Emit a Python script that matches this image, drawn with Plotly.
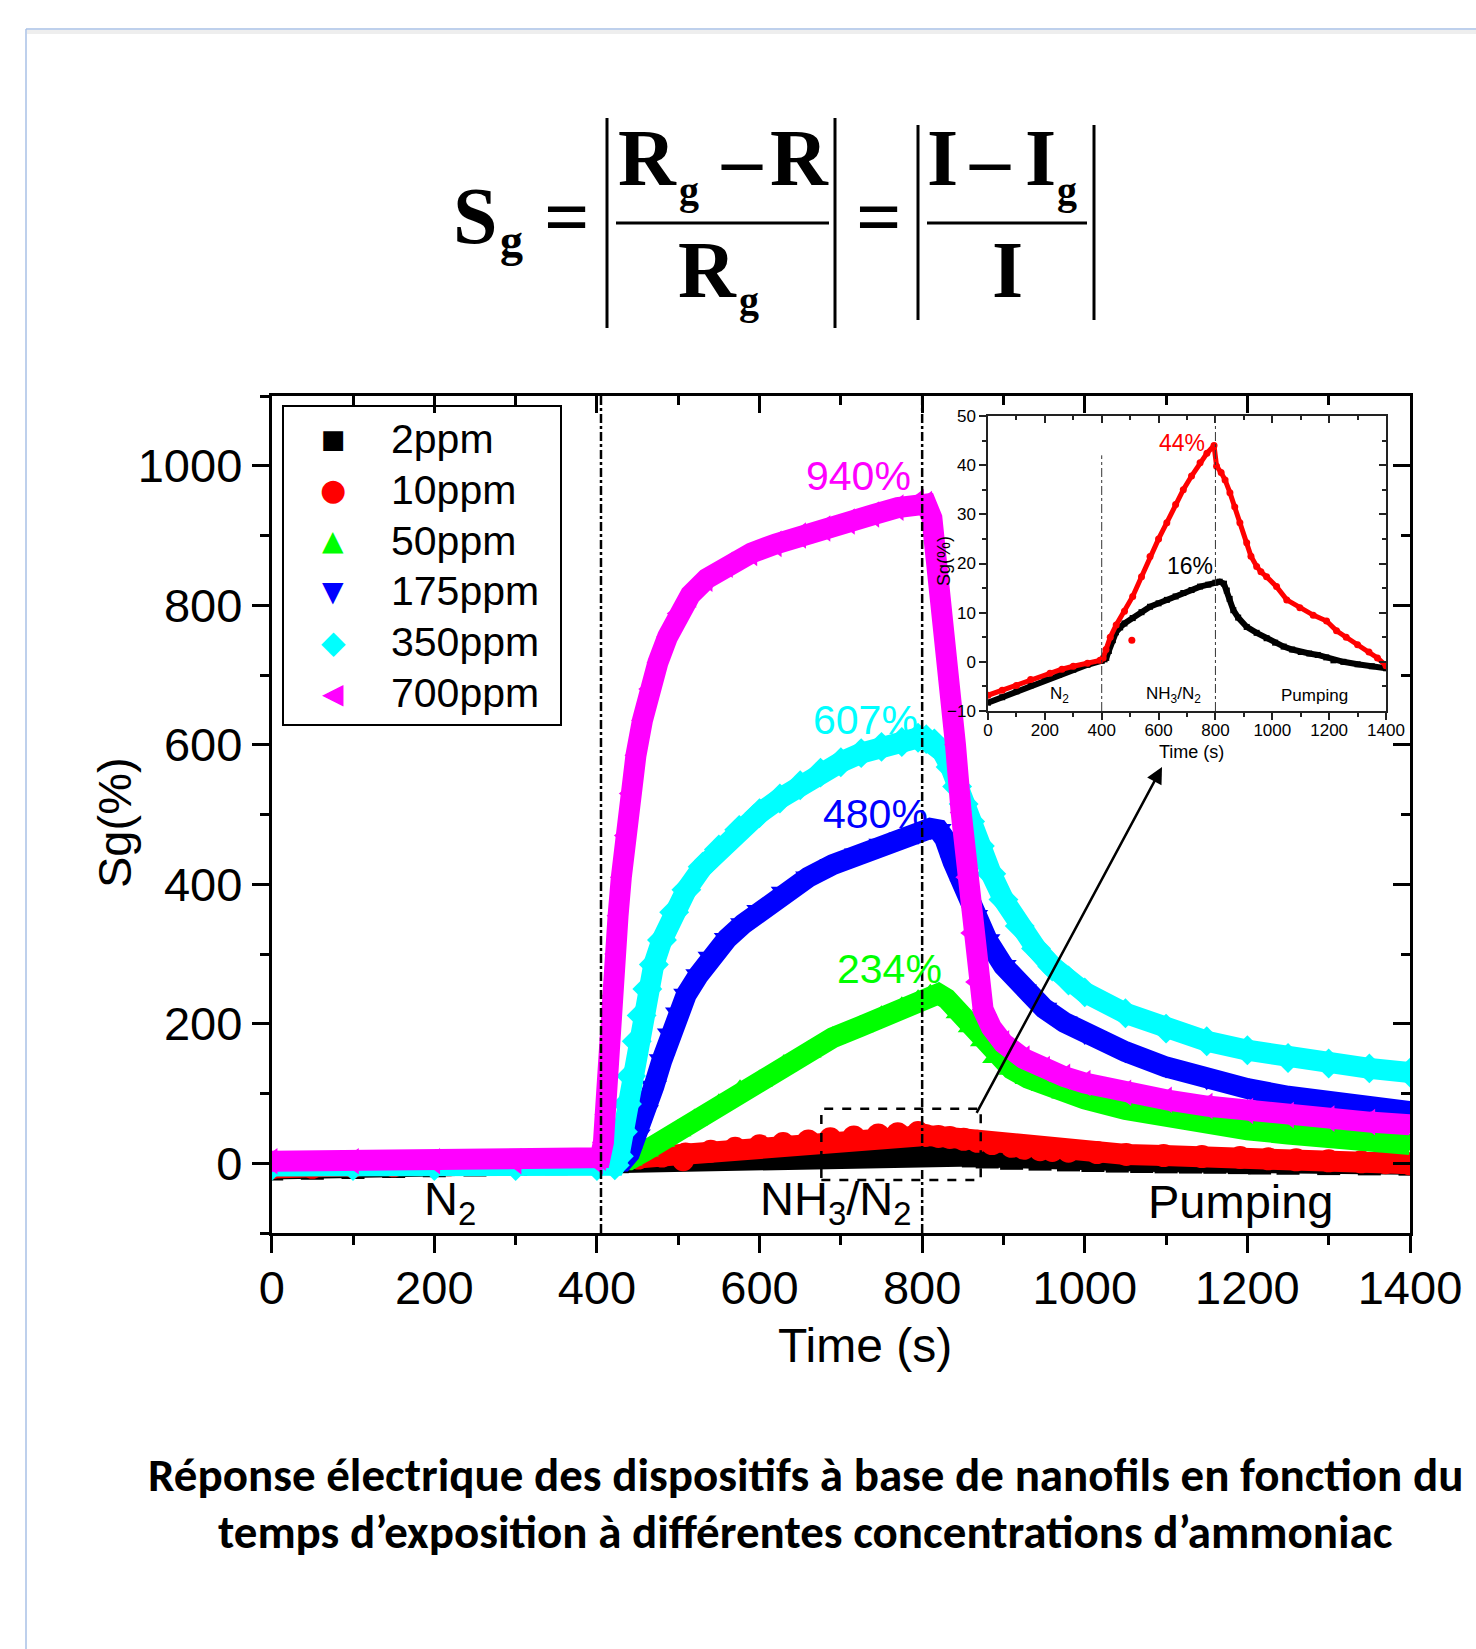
import plotly.graph_objects as go

W, H = 1476, 1649

# ---------------- data ----------------
t_2ppm = [0, 50, 100, 150, 200, 250, 300, 350, 400, 410, 416, 425, 439, 450, 465, 480, 509, 540, 570,
          600, 629, 660, 687, 716, 746, 775, 800, 815, 830, 840, 850, 863, 880, 910, 945, 980, 1010,
          1040, 1070, 1100, 1130, 1160, 1190, 1215, 1250, 1300, 1350, 1400]
v_2ppm = [-8.3, -7.2, -6.0, -4.8, -3.6, -2.6, -1.6, -0.6, 0.2, 0.5, 0.8, 2.2, 4.4, 6.0, 7.0, 7.8, 8.9,
          10.1, 11.2, 11.9, 12.6, 13.3, 14.0, 14.6, 15.3, 15.7, 16.1, 16.3, 15.9, 14.5, 12.8, 10.5, 9.0,
          7.1, 5.9, 4.8, 3.9, 3.1, 2.5, 2.0, 1.7, 1.4, 0.9, 0.3, 0.0, -0.5, -0.9, -1.3]

t_10ppm = [0, 50, 100, 150, 218, 260, 300, 350, 394, 405, 415, 430, 451, 480, 509, 540, 570, 600, 629,
           660, 687, 716, 746, 770, 795, 804, 820, 834, 851, 868, 886, 910, 925, 945, 960, 980, 1015,
           1051, 1097, 1144, 1191, 1226, 1260, 1300, 1340, 1370, 1400]
v_10ppm = [-6.8, -5.8, -4.8, -3.6, -2.3, -1.5, -0.9, -0.3, 0.3, 0.8, 2.5, 5.0, 7.5, 10.3, 13.3, 17.3,
           21.4, 25.0, 28.3, 32.0, 35.0, 37.8, 40.5, 42.4, 44.0, 39.8, 38.5, 37.0, 34.4, 31.5, 28.3,
           24.2, 21.5, 19.4, 18.3, 17.3, 15.3, 12.6, 11.0, 9.5, 8.3, 6.3, 5.0, 3.5, 2.0, 0.8, -0.8]
t_10ppm_outlier = [506]
v_10ppm_outlier = [4.4]

t_50ppm = [0, 100, 200, 300, 400, 430, 440, 460, 480, 500, 520, 550, 576, 600, 630, 660, 690, 724, 750,
           775, 795, 810, 820, 830, 845, 860, 875, 890, 910, 930, 950, 975, 1000, 1050, 1100, 1150,
           1200, 1250, 1300, 1350, 1400]
v_50ppm = [0, 0, 0, 0, 0, 0, 5, 18, 32, 47, 62, 84, 104, 118, 140, 160, 180, 196, 210, 223, 233, 241,
           243, 236, 216, 196, 176, 152, 135, 122, 112, 101, 92, 77, 66, 56, 48, 42, 36, 31, 27]

t_175ppm = [0, 100, 200, 300, 400, 425, 432, 440, 450, 460, 470, 480, 490, 500, 510, 525, 540, 560, 580,
            600, 630, 660, 690, 720, 750, 775, 795, 810, 820, 828, 838, 850, 865, 880, 900, 925, 950,
            975, 1000, 1050, 1100, 1150, 1200, 1250, 1300, 1350, 1400]
v_175ppm = [-2, -2, -2, -2, -2, -2, 3, 14, 40, 75, 110, 148, 185, 215, 242, 270, 295, 322, 343, 362,
            388, 410, 428, 443, 457, 466, 473, 480, 478, 465, 432, 398, 355, 320, 283, 248, 222, 202,
            186, 160, 138, 121, 107, 96, 87, 80, 74]

t_350ppm = [0, 100, 200, 300, 400, 422, 427, 432, 437, 442, 449, 455, 462, 470, 480, 495, 510, 530, 550,
            575, 600, 625, 650, 675, 700, 725, 750, 775, 795, 805, 815, 825, 835, 843, 851, 859, 871,
            885, 900, 920, 940, 960, 980, 1000, 1050, 1100, 1150, 1200, 1250, 1300, 1350, 1400]
v_350ppm = [-4, -4, -4, -4, -4, -3, 10, 45, 85, 125, 175, 212, 250, 285, 320, 360, 392, 425, 450, 478,
            502, 523, 542, 560, 575, 588, 597, 604, 610, 608, 602, 590, 568, 540, 515, 490, 455, 415,
            378, 340, 308, 282, 262, 245, 215, 193, 175, 162, 151, 143, 136, 130]

t_700ppm = [0, 100, 200, 300, 400, 404, 408, 411, 414, 417, 420, 423, 426, 430, 435, 441, 448, 456, 465,
            475, 487, 500, 515, 535, 560, 590, 620, 650, 680, 710, 740, 770, 795, 805, 812, 820, 827,
            834, 841, 848, 855, 861, 867, 875, 885, 900, 925, 950, 975, 1000, 1050, 1100, 1150, 1200,
            1250, 1300, 1350, 1400]
v_700ppm = [3, 3, 3, 3, 3, 8, 30, 70, 120, 180, 240, 300, 355, 410, 470, 530, 585, 635, 680, 718, 755,
            788, 815, 838, 858, 875, 888, 900, 910, 920, 930, 940, 948, 945, 925, 850, 780, 694, 600,
            503, 410, 330, 260, 220, 195, 172, 150, 135, 124, 115, 101, 91, 82, 75, 69, 64, 59, 55]

series_names = ["2ppm", "10ppm", "50ppm", "175ppm", "350ppm", "700ppm"]
series_t = [t_2ppm, t_10ppm, t_50ppm, t_175ppm, t_350ppm, t_700ppm]
series_v = [v_2ppm, v_10ppm, v_50ppm, v_175ppm, v_350ppm, v_700ppm]
series_colors = ["#000000", "#ff0000", "#00ff00", "#0000ff", "#00ffff", "#ff00ff"]
series_symbols = ["square", "circle", "triangle-up", "triangle-down", "diamond", "triangle-left"]
legend_glyphs = ["\u25A0", "\u25CF", "\u25B2", "\u25BC", "\u25C6", "\u25C0"]
legend_glyph_sizes = [26, 30, 28, 28, 32, 28]

peak_labels = ["940%", "607%", "480%", "234%"]
peak_label_t = [722, 730, 742, 760]
peak_label_v = [986, 635, 501, 278]
peak_label_colors = ["#ff00ff", "#00ffff", "#0000ff", "#00ff00"]

inset_labels = ["44%", "16%"]
inset_label_t = [681, 710]
inset_label_v = [44.6, 19.4]
inset_label_colors = ["#ff0000", "#000000"]

phase_bounds_main = [405, 800]
phase_bounds_inset = [400, 800]
phase_names = ["N<sub>2</sub>", "NH<sub>3</sub>/N<sub>2</sub>", "Pumping"]
phase_name_t = [219, 694, 1192]
phase_name_v = -55
inset_phase_name_t = [253, 652, 1150]
inset_phase_name_v = -6.8
inset_phase_tops = [42, 50]

zoom_box_t = [676, 872]
zoom_box_v = [-24, 78]
arrow_tail = (866, 70)
arrow_head = (1095, 568)

x_ticks = list(range(0, 1401, 200))
y_ticks = list(range(0, 1001, 200))
inset_y_ticks = list(range(-10, 51, 10))

SANS = "Arial, Liberation Sans, sans-serif"
SYM = "DejaVu Sans, sans-serif"
SERIF = "Times New Roman, Liberation Serif, serif"
CAPF = "Carlito, Calibri, Lato, sans-serif"


def px(x, y):
    return x / W, 1 - y / H


# layout boxes in pixels
MAIN_L, MAIN_R, MAIN_T, MAIN_B = 271.7, 1410, 396, 1233
INS_L, INS_R, INS_T, INS_B = 988, 1386, 416, 711
LEG_L, LEG_T, LEG_R, LEG_B = 283, 406, 561, 725
LEG_ROW0, LEG_STEP, LEG_SYM_X, LEG_TXT_X = 439, 50.8, 333, 389

fig = go.Figure()

# main series: band (thick line) + markers
for name, t, v, c, s in zip(series_names, series_t, series_v, series_colors, series_symbols):
    fig.add_trace(go.Scatter(x=t, y=v, mode="lines", line=dict(color=c, width=21),
                             showlegend=False, hoverinfo="skip", xaxis="x", yaxis="y"))
    fig.add_trace(go.Scatter(x=t, y=v, mode="markers", name=name,
                             marker=dict(color=c, symbol=s, size=23, line=dict(width=0)),
                             showlegend=False, xaxis="x", yaxis="y"))
    if name == "10ppm":
        fig.add_trace(go.Scatter(x=t_10ppm_outlier, y=v_10ppm_outlier, mode="markers",
                                 marker=dict(color=c, symbol="circle", size=22),
                                 showlegend=False, xaxis="x", yaxis="y"))

# inset series
fig.add_trace(go.Scatter(x=t_2ppm, y=v_2ppm, mode="lines+markers",
                         line=dict(color="#000000", width=6),
                         marker=dict(color="#000000", symbol="square", size=6),
                         showlegend=False, xaxis="x2", yaxis="y2"))
fig.add_trace(go.Scatter(x=t_10ppm, y=v_10ppm, mode="lines+markers",
                         line=dict(color="#ff0000", width=5),
                         marker=dict(color="#ff0000", symbol="circle", size=7),
                         showlegend=False, xaxis="x2", yaxis="y2"))
fig.add_trace(go.Scatter(x=t_10ppm_outlier, y=v_10ppm_outlier, mode="markers",
                         marker=dict(color="#ff0000", symbol="circle", size=7),
                         showlegend=False, xaxis="x2", yaxis="y2"))

# empty traces so the mirrored (inside-tick) frame axes are drawn
fig.add_trace(go.Scatter(x=[], y=[], xaxis="x3", yaxis="y3", showlegend=False, hoverinfo="skip"))
fig.add_trace(go.Scatter(x=[], y=[], xaxis="x4", yaxis="y4", showlegend=False, hoverinfo="skip"))

main_dom_x = [MAIN_L / W, MAIN_R / W]
main_dom_y = [1 - MAIN_B / H, 1 - MAIN_T / H]
ins_dom_x = [INS_L / W, INS_R / W]
ins_dom_y = [1 - INS_B / H, 1 - INS_T / H]

tickfont_main = dict(family=SANS, size=47, color="black")
tickfont_ins = dict(family=SANS, size=17, color="black")

common_main = dict(showline=True, linecolor="black", linewidth=3, showgrid=False, zeroline=False,
                   tickcolor="black", tickwidth=3, automargin=False)
common_ins = dict(showline=True, linecolor="#222", linewidth=1.5, showgrid=False, zeroline=False,
                  tickcolor="#222", tickwidth=1.5, automargin=False)

fig.update_layout(
    width=W, height=H, autosize=False,
    margin=dict(l=0, r=0, t=0, b=0, pad=0, autoexpand=False),
    paper_bgcolor="white", plot_bgcolor="rgba(0,0,0,0)",
    showlegend=False,
    xaxis=dict(domain=main_dom_x, range=[0, 1400], tickvals=x_ticks, ticks="outside", ticklen=17,
               tickfont=tickfont_main, anchor="y", ticklabelstandoff=-5,
               minor=dict(ticks="outside", ticklen=9, dtick=100, tickwidth=3, tickcolor="black"),
               **common_main),
    yaxis=dict(domain=main_dom_y, range=[-100, 1100], tickvals=y_ticks, ticks="outside", ticklen=17,
               tickfont=tickfont_main, anchor="x",
               minor=dict(ticks="outside", ticklen=9, tick0=0, dtick=100, tickwidth=3, tickcolor="black"),
               **common_main),
    xaxis3=dict(overlaying="x", side="top", anchor="y", range=[0, 1400], tickvals=x_ticks,
                ticks="inside", ticklen=17, showticklabels=False,
                minor=dict(ticks="inside", ticklen=9, dtick=100, tickwidth=3, tickcolor="black"),
                **common_main),
    yaxis3=dict(overlaying="y", side="right", anchor="x", range=[-100, 1100], tickvals=y_ticks,
                ticks="inside", ticklen=17, showticklabels=False,
                minor=dict(ticks="inside", ticklen=9, tick0=0, dtick=100, tickwidth=3, tickcolor="black"),
                **common_main),
    xaxis2=dict(domain=ins_dom_x, range=[0, 1400], tickvals=x_ticks, ticks="outside", ticklen=7,
                tickfont=tickfont_ins, anchor="y2", ticklabelstandoff=-4,
                minor=dict(ticks="outside", ticklen=4, dtick=100, tickwidth=1.5, tickcolor="#222"),
                **common_ins),
    yaxis2=dict(domain=ins_dom_y, range=[-10, 50], tickvals=inset_y_ticks, ticks="outside", ticklen=7,
                tickfont=tickfont_ins, anchor="x2",
                minor=dict(ticks="outside", ticklen=4, tick0=0, dtick=5, tickwidth=1.5, tickcolor="#222"),
                **common_ins),
    xaxis4=dict(overlaying="x2", side="top", anchor="y2", range=[0, 1400], tickvals=x_ticks,
                ticks="inside", ticklen=7, showticklabels=False,
                minor=dict(ticks="inside", ticklen=4, dtick=100, tickwidth=1.5, tickcolor="#222"),
                **common_ins),
    yaxis4=dict(overlaying="y2", side="right", anchor="x2", range=[-10, 50], tickvals=inset_y_ticks,
                ticks="inside", ticklen=7, showticklabels=False,
                minor=dict(ticks="inside", ticklen=4, tick0=0, dtick=5, tickwidth=1.5, tickcolor="#222"),
                **common_ins),
)

shapes = []
annotations = []

# page frame (top and left edges)
shapes.append(dict(type="line", xref="paper", yref="paper", x0=27 / W, x1=1, y0=1 - 32 / H, y1=1 - 32 / H,
                   line=dict(color="#eeeeee", width=4), layer="below"))
shapes.append(dict(type="line", xref="paper", yref="paper", x0=26 / W, x1=1, y0=1 - 29 / H, y1=1 - 29 / H,
                   line=dict(color="#a9c1e6", width=1.5), layer="below"))
shapes.append(dict(type="line", xref="paper", yref="paper", x0=26 / W, x1=26 / W, y0=0, y1=1 - 29 / H,
                   line=dict(color="#a9c1e6", width=1.5), layer="below"))

# legend frame + entries
lx0, ly0 = px(LEG_L, LEG_B)
lx1, ly1 = px(LEG_R, LEG_T)
shapes.append(dict(type="rect", xref="paper", yref="paper", x0=lx0, x1=lx1, y0=ly0, y1=ly1,
                   line=dict(color="black", width=2), fillcolor="white", layer="below"))
for i, (name, c, g, gs) in enumerate(zip(series_names, series_colors, legend_glyphs, legend_glyph_sizes)):
    yrow = LEG_ROW0 + i * LEG_STEP
    xs, ys = px(LEG_SYM_X, yrow)
    annotations.append(dict(x=xs, y=ys, xref="paper", yref="paper", text=g, showarrow=False,
                            xanchor="center", yanchor="middle", font=dict(family=SYM, size=gs, color=c)))
    xt, yt = px(LEG_TXT_X, yrow)
    annotations.append(dict(x=xt, y=yt, xref="paper", yref="paper", text=name, showarrow=False,
                            xanchor="left", yanchor="middle", font=dict(family=SANS, size=41, color="black")))

# axis titles
for txt, x, y, s, ang in [("Time (s)", 865, 1345, 48, 0), ("Sg(%)", 114, 823, 47, -90),
                          ("Time (s)", 1191, 752, 18, 0), ("Sg(%)", 944, 561, 18, -90)]:
    xp, yp = px(x, y)
    annotations.append(dict(x=xp, y=yp, xref="paper", yref="paper", text=txt, showarrow=False,
                            xanchor="center", yanchor="middle", textangle=ang,
                            font=dict(family=SANS, size=s, color="black")))

# phase boundaries
for b in phase_bounds_main:
    shapes.append(dict(type="line", xref="x", yref="y domain", x0=b, x1=b, y0=0, y1=1,
                       line=dict(color="black", width=2.5, dash="dashdot")))
for b, top in zip(phase_bounds_inset, inset_phase_tops):
    shapes.append(dict(type="line", xref="x2", yref="y2", x0=b, x1=b, y0=-10, y1=top,
                       line=dict(color="#333", width=1, dash="dashdot")))

# zoom box
shapes.append(dict(type="rect", xref="x", yref="y", x0=zoom_box_t[0], x1=zoom_box_t[1],
                   y0=zoom_box_v[0], y1=zoom_box_v[1], line=dict(color="black", width=2.5, dash="dash")))

annotations.append(dict(x=arrow_head[0], y=arrow_head[1], ax=arrow_tail[0], ay=arrow_tail[1],
                        xref="x", yref="y", axref="x", ayref="y", text="", showarrow=True,
                        arrowhead=2, arrowsize=1.3, arrowwidth=2.5, arrowcolor="black"))

for txt, t, v, c in zip(peak_labels, peak_label_t, peak_label_v, peak_label_colors):
    annotations.append(dict(x=t, y=v, xref="x", yref="y", text=txt, showarrow=False,
                            font=dict(family=SANS, size=41, color=c)))
for txt, t, v, c in zip(inset_labels, inset_label_t, inset_label_v, inset_label_colors):
    annotations.append(dict(x=t, y=v, xref="x2", yref="y2", text=txt, showarrow=False,
                            font=dict(family=SANS, size=23, color=c)))
for txt, t in zip(phase_names, phase_name_t):
    annotations.append(dict(x=t, y=phase_name_v, xref="x", yref="y", text=txt, showarrow=False,
                            font=dict(family=SANS, size=47, color="black")))
for txt, t in zip(phase_names, inset_phase_name_t):
    annotations.append(dict(x=t, y=inset_phase_name_v, xref="x2", yref="y2", text=txt, showarrow=False,
                            font=dict(family=SANS, size=17, color="black")))

# formula
formula_parts = [
    ("S", 476, 216, 80), ("g", 511, 240, 46), ("=", 567, 217, 80),
    ("R", 647, 158, 80), ("g", 689, 190, 40), ("\u2013", 742, 159, 80), ("R", 799, 158, 80),
    ("R", 707, 270, 80), ("g", 749, 300, 40),
    ("=", 879, 217, 80),
    ("I", 943, 158, 80), ("\u2013", 990, 159, 80), ("I", 1040, 158, 80), ("g", 1067, 190, 40),
    ("I", 1007, 270, 80),
]
for txt, x, y, s in formula_parts:
    xp, yp = px(x, y)
    annotations.append(dict(x=xp, y=yp, xref="paper", yref="paper", text="<b>%s</b>" % txt,
                            showarrow=False, xanchor="center", yanchor="middle",
                            font=dict(family=SERIF, size=s, color="black")))
formula_rules = [(607, 118, 607, 328), (835, 118, 835, 328), (918, 125, 918, 320), (1094, 125, 1094, 320),
                 (616, 223, 829, 223), (927, 223, 1087, 223)]
for x0, y0, x1, y1 in formula_rules:
    a, b = px(x0, y0)
    c, d = px(x1, y1)
    shapes.append(dict(type="line", xref="paper", yref="paper", x0=a, y0=b, x1=c, y1=d,
                       line=dict(color="black", width=3)))

# caption
caption_lines = ["Réponse électrique des dispositifs à base de nanofils en fonction du",
                 "temps d\u2019exposition à différentes concentrations d\u2019ammoniac"]
caption_y = [1475, 1532]
for txt, y in zip(caption_lines, caption_y):
    xp, yp = px(805, y)
    annotations.append(dict(x=xp, y=yp, xref="paper", yref="paper", text="<b>%s</b>" % txt,
                            showarrow=False, xanchor="center", yanchor="middle",
                            font=dict(family=CAPF, size=47, color="black")))

fig.update_layout(shapes=shapes, annotations=annotations)

fig.write_html("out.html", config={"displayModeBar": False},
               post_script="document.body.style.margin='0';document.body.style.overflow='hidden';")
